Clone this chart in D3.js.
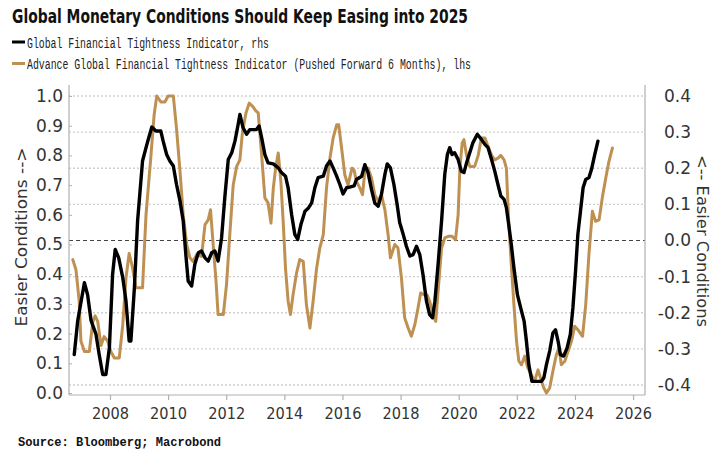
<!DOCTYPE html>
<html>
<head>
<meta charset="utf-8">
<script src="https://cdn.jsdelivr.net/npm/d3@7"></script>
<style>
  html, body { margin: 0; padding: 0; background: #fff; }
  svg { display: block; }
</style>
</head>
<body>
<svg id="chart" width="728" height="463"></svg>
<script>
// ---------------- DATA ----------------
const titleText = "Global Monetary Conditions Should Keep Easing into 2025";
const seriesNames = [
  "Global Financial Tightness Indicator, rhs",
  "Advance Global Financial Tightness Indicator (Pushed Forward 6 Months), lhs"
];
const sourceText = "Source: Bloomberg; Macrobond";
const leftAxisTitle = "Easier Conditions -->";
const rightAxisTitle = "<-- Easier Conditions";

const xTickYears = [2008, 2010, 2012, 2014, 2016, 2018, 2020, 2022, 2024, 2026];
const leftTicks = [0.0, 0.1, 0.2, 0.3, 0.4, 0.5, 0.6, 0.7, 0.8, 0.9, 1.0];
const rightTicks = [-0.4, -0.3, -0.2, -0.1, 0.0, 0.1, 0.2, 0.3, 0.4];

// Global Financial Tightness Indicator (rhs)
const blackDates = [2006.77,2006.89,2007.12,2007.23,2007.35,2007.52,2007.63,2007.75,2007.86,2007.98,2008.09,2008.18,2008.30,2008.44,2008.55,2008.66,2008.72,2008.84,2008.95,2009.12,2009.30,2009.44,2009.58,2009.75,2009.83,2009.95,2010.06,2010.18,2010.29,2010.41,2010.52,2010.61,2010.69,2010.81,2010.92,2011.04,2011.15,2011.27,2011.38,2011.50,2011.61,2011.72,2011.84,2011.95,2012.07,2012.19,2012.30,2012.41,2012.47,2012.58,2012.70,2012.81,2013.04,2013.13,2013.22,2013.33,2013.44,2013.62,2013.79,2013.90,2014.04,2014.13,2014.25,2014.36,2014.46,2014.57,2014.71,2014.82,2014.94,2015.05,2015.16,2015.34,2015.45,2015.57,2015.68,2015.80,2015.91,2016.02,2016.14,2016.25,2016.40,2016.48,2016.66,2016.77,2016.88,2017.00,2017.11,2017.23,2017.34,2017.46,2017.54,2017.65,2017.77,2017.88,2017.97,2018.09,2018.20,2018.32,2018.43,2018.55,2018.66,2018.77,2018.89,2019.00,2019.10,2019.18,2019.29,2019.41,2019.52,2019.61,2019.69,2019.77,2019.86,2019.98,2020.09,2020.18,2020.27,2020.38,2020.49,2020.64,2020.78,2020.90,2021.01,2021.13,2021.24,2021.35,2021.45,2021.56,2021.64,2021.72,2021.81,2021.90,2022.02,2022.13,2022.25,2022.33,2022.41,2022.52,2022.85,2022.93,2023.02,2023.13,2023.24,2023.33,2023.42,2023.50,2023.61,2023.73,2023.84,2023.93,2024.02,2024.10,2024.19,2024.28,2024.37,2024.48,2024.57,2024.68,2024.79];
const blackValues = [-0.316,-0.222,-0.117,-0.150,-0.222,-0.260,-0.316,-0.371,-0.371,-0.297,-0.094,-0.025,-0.048,-0.103,-0.167,-0.278,-0.278,-0.131,0.054,0.220,0.275,0.314,0.303,0.303,0.275,0.238,0.220,0.206,0.155,0.109,0.054,-0.039,-0.112,-0.126,-0.066,-0.034,-0.029,-0.048,-0.057,-0.034,-0.029,-0.057,0.007,0.118,0.224,0.243,0.275,0.321,0.349,0.312,0.294,0.307,0.307,0.317,0.284,0.238,0.215,0.212,0.201,0.188,0.178,0.146,0.072,0.017,0.003,0.044,0.081,0.089,0.104,0.146,0.174,0.178,0.206,0.220,0.201,0.178,0.155,0.129,0.146,0.148,0.151,0.169,0.178,0.210,0.188,0.141,0.104,0.095,0.127,0.183,0.212,0.201,0.155,0.100,0.049,0.017,-0.016,-0.043,-0.039,-0.016,-0.039,-0.094,-0.168,-0.205,-0.214,-0.168,-0.066,0.054,0.183,0.238,0.257,0.238,0.243,0.224,0.192,0.188,0.215,0.243,0.271,0.294,0.280,0.266,0.257,0.224,0.192,0.155,0.123,0.114,0.091,0.044,-0.011,-0.076,-0.150,-0.186,-0.223,-0.279,-0.343,-0.390,-0.390,-0.380,-0.343,-0.306,-0.256,-0.247,-0.279,-0.316,-0.320,-0.297,-0.260,-0.186,-0.085,0.017,0.081,0.146,0.169,0.174,0.197,0.238,0.275];

// Advance Global Financial Tightness Indicator, pushed forward 6 months (lhs)
const goldDates = [2006.72,2006.83,2006.94,2007.00,2007.12,2007.29,2007.41,2007.49,2007.58,2007.69,2007.80,2007.92,2008.03,2008.15,2008.32,2008.44,2008.55,2008.66,2008.78,2008.89,2009.12,2009.24,2009.41,2009.52,2009.61,2009.75,2009.89,2010.00,2010.18,2010.29,2010.41,2010.52,2010.64,2010.75,2010.86,2010.98,2011.15,2011.27,2011.38,2011.46,2011.55,2011.65,2011.72,2011.90,2012.01,2012.13,2012.24,2012.36,2012.47,2012.56,2012.68,2012.79,2012.91,2013.02,2013.10,2013.22,2013.33,2013.44,2013.54,2013.62,2013.70,2013.79,2013.88,2013.96,2014.04,2014.13,2014.21,2014.30,2014.42,2014.53,2014.65,2014.76,2014.88,2014.99,2015.11,2015.22,2015.34,2015.45,2015.57,2015.68,2015.80,2015.87,2015.97,2016.08,2016.19,2016.33,2016.40,2016.48,2016.60,2016.69,2016.77,2016.88,2017.00,2017.11,2017.23,2017.34,2017.46,2017.57,2017.65,2017.80,2017.91,2018.03,2018.14,2018.26,2018.37,2018.49,2018.60,2018.69,2018.80,2018.91,2019.00,2019.12,2019.21,2019.29,2019.41,2019.52,2019.66,2019.77,2019.89,2019.98,2020.04,2020.12,2020.18,2020.27,2020.38,2020.55,2020.67,2020.78,2020.90,2020.99,2021.13,2021.24,2021.35,2021.45,2021.56,2021.64,2021.72,2021.81,2021.90,2021.99,2022.07,2022.16,2022.27,2022.38,2022.50,2022.61,2022.73,2022.85,2022.93,2023.02,2023.13,2023.24,2023.36,2023.45,2023.53,2023.65,2023.76,2023.88,2023.99,2024.10,2024.26,2024.37,2024.48,2024.60,2024.71,2024.83,2024.94,2025.06,2025.17,2025.29];
const goldValues = [0.449,0.415,0.310,0.175,0.140,0.140,0.240,0.260,0.240,0.160,0.190,0.175,0.140,0.118,0.118,0.230,0.387,0.470,0.420,0.354,0.354,0.600,0.800,0.937,1.000,0.980,0.980,1.000,1.000,0.890,0.746,0.600,0.500,0.455,0.443,0.466,0.460,0.567,0.583,0.617,0.500,0.376,0.264,0.264,0.365,0.544,0.700,0.763,0.785,0.880,0.943,0.976,0.965,0.950,0.943,0.800,0.657,0.640,0.572,0.690,0.757,0.808,0.713,0.578,0.420,0.309,0.264,0.331,0.404,0.449,0.443,0.297,0.219,0.309,0.420,0.488,0.533,0.690,0.791,0.859,0.903,0.903,0.825,0.735,0.700,0.757,0.750,0.713,0.690,0.668,0.746,0.757,0.724,0.668,0.646,0.668,0.617,0.533,0.455,0.500,0.488,0.387,0.253,0.219,0.191,0.230,0.286,0.337,0.331,0.331,0.309,0.264,0.241,0.342,0.488,0.522,0.528,0.528,0.516,0.600,0.757,0.842,0.853,0.800,0.763,0.763,0.800,0.859,0.859,0.836,0.800,0.785,0.791,0.800,0.785,0.757,0.578,0.432,0.297,0.174,0.107,0.095,0.124,0.084,0.062,0.039,0.078,0.039,0.017,0.000,0.017,0.073,0.129,0.152,0.095,0.107,0.140,0.174,0.225,0.213,0.191,0.297,0.466,0.612,0.578,0.583,0.657,0.724,0.780,0.825];

// ---------------- CHART ----------------
const svg = d3.select("#chart");
const plotL = 69, plotR = 645, plotT = 85, plotB = 395;
const BLACK = "#000000", GOLD = "#BE9052";
const tickColor = "#333333";

const x = d3.scaleLinear().domain([2006.59, 2026.41]).range([plotL, plotR]);
const yL = d3.scaleLinear().domain([0, 1]).range([393, 96]);
const yR = d3.scaleLinear().domain([-0.4, 0.4]).range([385, 96]);

// Title
svg.append("text")
  .attr("x", 12).attr("y", 23)
  .attr("font-family", "DejaVu Sans").attr("font-weight", "bold")
  .attr("font-size", 19.5).attr("fill", "#111")
  .attr("textLength", 456).attr("lengthAdjust", "spacingAndGlyphs")
  .text(titleText);

// Legend
const legendColors = [BLACK, GOLD];
const legendWidths = [242, 444];
const legend = svg.append("g");
seriesNames.forEach((name, i) => {
  const yy = 42 + i * 21.5;
  legend.append("line")
    .attr("x1", 12).attr("x2", 25).attr("y1", yy).attr("y2", yy)
    .attr("stroke", legendColors[i]).attr("stroke-width", 3);
  legend.append("text")
    .attr("x", 27).attr("y", yy + 5.5)
    .attr("font-family", "Liberation Mono").attr("font-size", 15.5)
    .attr("fill", "#222")
    .attr("textLength", legendWidths[i]).attr("lengthAdjust", "spacingAndGlyphs")
    .text(name);
});

// Gridlines (right axis)
svg.append("g").selectAll("line")
  .data(rightTicks.filter(d => Math.abs(d) > 1e-9))
  .join("line")
  .attr("x1", plotL).attr("x2", plotR)
  .attr("y1", d => yR(d)).attr("y2", d => yR(d))
  .attr("stroke", "#cfcfcf").attr("stroke-width", 1.3)
  .attr("stroke-dasharray", "2,2");

// Zero dashed line (right axis)
svg.append("line")
  .attr("x1", plotL).attr("x2", plotR)
  .attr("y1", yR(0)).attr("y2", yR(0))
  .attr("stroke", "#444").attr("stroke-width", 1.2)
  .attr("stroke-dasharray", "4,3");

// Frame
const frame = svg.append("g").attr("stroke", "#b0b0b0").attr("stroke-width", 1.2);
frame.append("line").attr("x1", plotL).attr("x2", plotL).attr("y1", plotT).attr("y2", plotB);
frame.append("line").attr("x1", plotR).attr("x2", plotR).attr("y1", plotT).attr("y2", plotB);
frame.append("line").attr("x1", plotL).attr("x2", plotR).attr("y1", plotB).attr("y2", plotB);

// Left axis
const gL = svg.append("g").attr("transform", `translate(${plotL},0)`)
  .call(d3.axisLeft(yL).tickValues(leftTicks).tickFormat(d3.format(".1f"))
    .tickSizeInner(-3).tickSizeOuter(0).tickPadding(6));
gL.select(".domain").remove();
gL.selectAll("line").attr("stroke", "#b0b0b0");
gL.selectAll("text").attr("font-family", "DejaVu Sans").attr("font-size", 17).attr("fill", tickColor);

// Right axis
const gR = svg.append("g").attr("transform", `translate(${plotR},0)`)
  .call(d3.axisRight(yR).tickValues(rightTicks).tickFormat(d3.format(".1f"))
    .tickSizeInner(0).tickSizeOuter(0));
gR.select(".domain").remove();
gR.selectAll("text").attr("x", 46).attr("text-anchor", "end")
  .attr("font-family", "DejaVu Sans").attr("font-size", 17).attr("fill", tickColor)
  .text(d => d < 0 ? "-" + Math.abs(d).toFixed(1) : d.toFixed(1));

// Bottom axis
const gB = svg.append("g").attr("transform", `translate(0,${plotB})`)
  .call(d3.axisBottom(x).tickValues(xTickYears).tickFormat(d3.format("d"))
    .tickSizeInner(5).tickSizeOuter(0));
gB.select(".domain").remove();
gB.selectAll("line").attr("stroke", "#b0b0b0").attr("stroke-width", 1.2);
gB.selectAll("text").attr("y", 12)
  .attr("font-family", "DejaVu Sans").attr("font-size", 16.5).attr("fill", tickColor)
  .attr("textLength", 37).attr("lengthAdjust", "spacingAndGlyphs");

// Axis titles
svg.append("text")
  .attr("transform", `translate(27,237) rotate(-90)`)
  .attr("text-anchor", "middle")
  .attr("font-family", "DejaVu Sans").attr("font-size", 15).attr("fill", tickColor)
  .attr("textLength", 179).attr("lengthAdjust", "spacingAndGlyphs")
  .text(leftAxisTitle);
svg.append("text")
  .attr("transform", `translate(697,241) rotate(90)`)
  .attr("text-anchor", "middle")
  .attr("font-family", "DejaVu Sans").attr("font-size", 15).attr("fill", tickColor)
  .attr("textLength", 172).attr("lengthAdjust", "spacingAndGlyphs")
  .text(rightAxisTitle);

// Lines
const goldData = goldDates.map((d, i) => [d, goldValues[i]]);
const blackData = blackDates.map((d, i) => [d, blackValues[i]]);

svg.append("path")
  .datum(goldData)
  .attr("fill", "none").attr("stroke", GOLD).attr("stroke-width", 3)
  .attr("stroke-linejoin", "round").attr("stroke-linecap", "round")
  .attr("d", d3.line().x(d => x(d[0])).y(d => yL(d[1])));

svg.append("path")
  .datum(blackData)
  .attr("fill", "none").attr("stroke", BLACK).attr("stroke-width", 3.4)
  .attr("stroke-linejoin", "round").attr("stroke-linecap", "round")
  .attr("d", d3.line().x(d => x(d[0])).y(d => yR(d[1])));

// Source
svg.append("text")
  .attr("x", 18).attr("y", 446)
  .attr("font-family", "Liberation Mono").attr("font-weight", "bold")
  .attr("font-size", 13.5).attr("fill", "#111")
  .attr("textLength", 203).attr("lengthAdjust", "spacingAndGlyphs")
  .text(sourceText);
</script>
</body>
</html>
